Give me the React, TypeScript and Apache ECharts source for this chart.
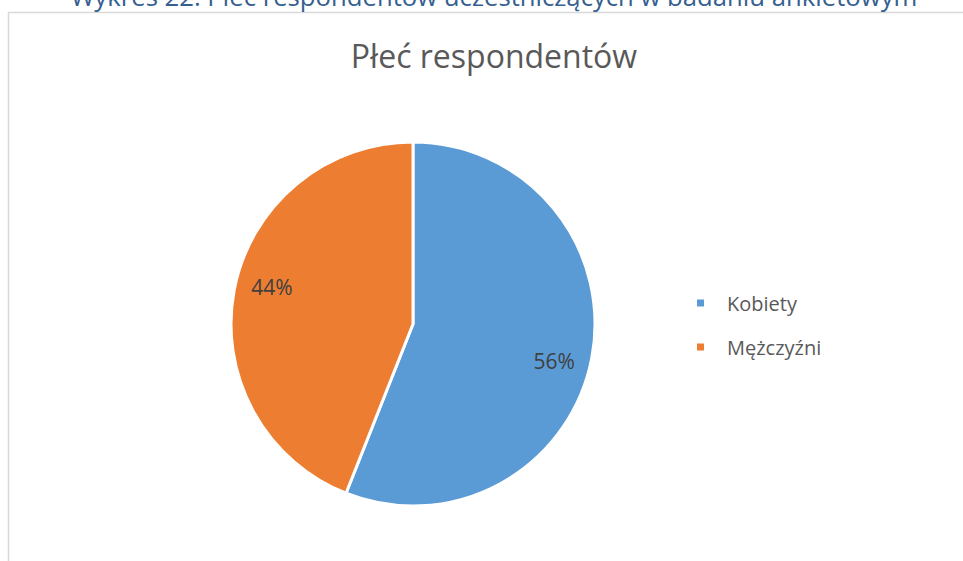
import React, { useEffect, useRef } from "react";
import * as echarts from "echarts";

const categories = ["Kobiety", "Mężczyźni"];
const values = [56, 44];
const colors = ["#5B9BD5", "#ED7D31"];
const chartTitle = "Płeć respondentów";
const caption = "Wykres 22. Płeć respondentów uczestniczących w badaniu ankietowym";

const FONT = "'Open Sans', 'Noto Sans', sans-serif";

export default function App() {
  const ref = useRef<HTMLDivElement>(null);
  useEffect(() => {
    if (!ref.current) return;
    const chart = echarts.init(ref.current, undefined, { renderer: "svg" });
    const data = categories.map((name, i) => ({
      name,
      value: values[i],
      itemStyle: { color: colors[i] },
    }));
    chart.setOption({
      animation: false,
      backgroundColor: "#ffffff",
      textStyle: { fontFamily: FONT },
      title: {
        text: chartTitle,
        left: 489,
        textAlign: "center",
        top: 34,
        textStyle: { fontFamily: FONT, fontSize: 32, fontWeight: "normal", color: "#595959" },
      },
      graphic: [
        {
          type: "rect",
          shape: { x: 8.5, y: 12.5, width: 1000, height: 600 },
          style: { fill: "none", stroke: "#d9d9d9", lineWidth: 1.5 },
          silent: true,
        },
        {
          type: "text",
          x: 494,
          y: 9.5,
          style: {
            text: caption,
            fontFamily: FONT,
            fontSize: 25.7,
            fill: "#365F91",
            align: "center",
            verticalAlign: "bottom",
          },
          silent: true,
        },
      ],
      legend: {
        orient: "vertical",
        left: 690,
        top: 288,
        itemWidth: 9,
        itemHeight: 9,
        itemGap: 24,
        icon: "rect",
        data: categories,
        textStyle: { fontFamily: FONT, fontSize: 20, color: "#595959", padding: [0, 0, 0, 17] },
      },
      series: [
        {
          type: "pie",
          center: [413, 324],
          radius: [0, 182],
          startAngle: 90,
          clockwise: true,
          data,
          itemStyle: { borderColor: "#ffffff", borderWidth: 3 },
          label: { show: false },
          labelLine: { show: false },
          emphasis: { disabled: true },
        },
        {
          type: "pie",
          center: [413, 324],
          radius: [0, 286],
          startAngle: 86,
          clockwise: true,
          silent: true,
          data: categories.map((name, i) => ({ name, value: values[i] })),
          itemStyle: { color: "rgba(0,0,0,0)" },
          label: {
            show: true,
            position: "inside",
            formatter: (p: any) => Math.round(p.percent) + "%",
            fontFamily: FONT,
            fontSize: 21,
            color: "#404040",
          },
          labelLine: { show: false },
          emphasis: { disabled: true },
          legendHoverLink: false,
        },
      ],
    });
    return () => chart.dispose();
  }, []);
  return <div ref={ref} style={{ position: "fixed", left: 0, top: 0, width: 963, height: 561 }} />;
}
